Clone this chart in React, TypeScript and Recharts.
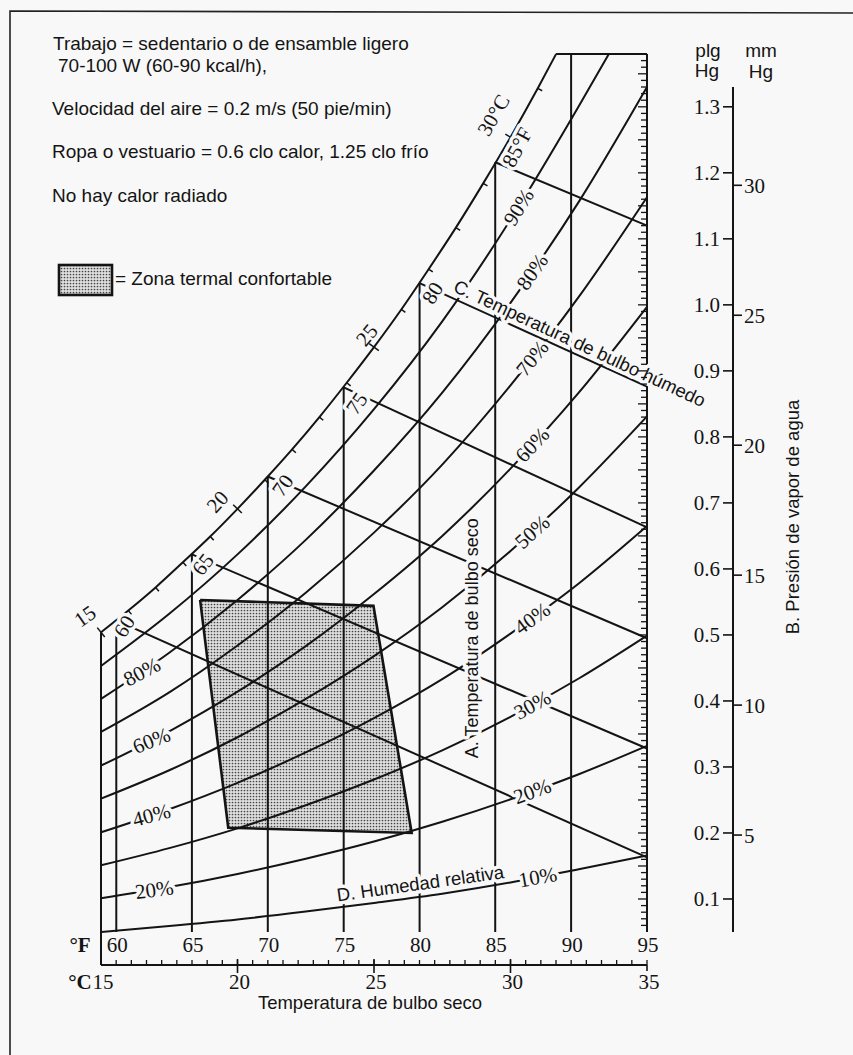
import React from 'react';
import { ComposedChart, LineChart, Line, Area, XAxis, YAxis, ReferenceDot } from 'recharts';

const INK = '#141414';
const PAPER = '#f8f8f8';
const SERIF = '"Liberation Serif", "Times New Roman", serif';
const SANS = '"Liberation Sans", Arial, sans-serif';

const W = 853;
const H = 1055;
// plot box of the psychrometric grid, in page pixels
const PLOT_LEFT = 101;
const PLOT_RIGHT = 646;
const PLOT_TOP = 54;
const PLOT_BOTTOM = 965;
const T_MIN = 15; // °C
const T_MAX = 35; // °C
const P_MAX = 1.38; // in Hg at the top border
const PX_PER_C = (PLOT_RIGHT - PLOT_LEFT) / (T_MAX - T_MIN);
const PX_PER_IN = (PLOT_BOTTOM - PLOT_TOP) / P_MAX;
const AXIS_BAND = 1; // thickness reserved by each thin axis

// ---- data -------------------------------------------------------------

// saturation (100 %) curve: dry-bulb °C -> vapour pressure in Hg
const SAT_TEMPS = [15, 16, 17, 18, 19, 20, 21, 22, 23, 24, 25, 26, 27, 28, 29, 30, 31, 31.67];
const SAT_PRESS = [0.504, 0.537, 0.572, 0.61, 0.649, 0.691, 0.735, 0.781, 0.83, 0.882, 0.936, 0.993, 1.054, 1.117, 1.184, 1.254, 1.328, 1.38];

// relative-humidity curves
const RH_TEMPS = [15, 17.5, 20, 22.5, 25, 27.5, 30, 32.5, 35];
const RH_90_TEMPS = [15, 17.5, 20, 22.5, 25, 27.5, 30, 32.5, 33.6];
const RH90 = [0.453, 0.532, 0.622, 0.725, 0.842, 0.975, 1.129, 1.301, 1.38];
const RH80 = [0.403, 0.473, 0.553, 0.644, 0.749, 0.867, 1.003, 1.156, 1.33];
const RH70 = [0.353, 0.413, 0.484, 0.564, 0.655, 0.758, 0.878, 1.012, 1.163];
const RH60 = [0.302, 0.354, 0.414, 0.483, 0.562, 0.65, 0.752, 0.867, 0.997];
const RH50 = [0.252, 0.295, 0.345, 0.403, 0.468, 0.542, 0.627, 0.723, 0.831];
const RH40 = [0.201, 0.236, 0.276, 0.322, 0.374, 0.433, 0.502, 0.578, 0.665];
const RH30 = [0.151, 0.177, 0.207, 0.242, 0.281, 0.325, 0.376, 0.434, 0.499];
const RH20 = [0.101, 0.118, 0.138, 0.161, 0.187, 0.217, 0.251, 0.289, 0.332];
const RH10 = [0.05, 0.059, 0.069, 0.081, 0.094, 0.108, 0.125, 0.145, 0.166];

// wet-bulb lines: start on the saturation curve, end on the 35 °C edge
const WB_LABELS = ['60', '65', '70', '75', '80', '85°F'];
const WB_START_T = [15.56, 18.33, 21.11, 23.89, 26.67, 29.44];
const WB_START_P = [0.522, 0.622, 0.74, 0.875, 1.033, 1.216];
const WB_END_P = [0.163, 0.328, 0.495, 0.663, 0.876, 1.12];

// dry-bulb lines every 5 °F
const DB_F = [60, 65, 70, 75, 80, 85, 90, 95];
const DB_T = [15.56, 18.33, 21.11, 23.89, 26.67, 29.44, 32.22, 35];
const DB_TOP = [0.522, 0.622, 0.74, 0.875, 1.033, 1.216, 1.38, 1.38];
const DB_BASE = 0.05;

// thermal comfort zone (corners in drawing order)
const ZONE_T = [18.63, 24.98, 26.38, 19.66];
const ZONE_P = [0.553, 0.544, 0.2, 0.208];
// lower / upper limit of the zone at each corner temperature
const ZONE_FILL_T = [18.63, 19.66, 24.98, 26.38];
const ZONE_FILL_LO = [0.553, 0.208, 0.201, 0.2];
const ZONE_FILL_HI = [0.553, 0.5515, 0.544, 0.2];

// axis ticks
const C_TICKS = [15, 20, 25, 30, 35];
const F_TICKS = [60, 61, 62, 63, 64, 65, 66, 67, 68, 69, 70, 71, 72, 73, 74, 75, 76, 77, 78, 79, 80, 81, 82, 83, 84, 85, 86, 87, 88, 89, 90, 91, 92, 93, 94, 95];
const IN_TICKS = [0.1, 0.2, 0.3, 0.4, 0.5, 0.6, 0.7, 0.8, 0.9, 1.0, 1.1, 1.2, 1.3];
const MM_TICKS = [5, 10, 15, 20, 25, 30];
const EDGE_TICKS = Array.from({ length: 132 }, (_, i) => Math.round((0.06 + i * 0.01) * 100) / 100);

// °F graduations expressed on the °C axis, merged with the °C ticks
const fToC = (f: number) => Math.round(((f - 32) / 1.8) * 10000) / 10000;
const AXIS_TICKS = Array.from(new Set([...C_TICKS, ...F_TICKS.map(fToC)])).sort((a, b) => a - b);

// ---- series built from the arrays ---------------------------------------

const pts = (ts: number[], ps: number[]) => ts.map((t, i) => ({ t, p: ps[i] }));

const RH_SERIES = [
  { rh: 90, data: pts(RH_90_TEMPS, RH90) },
  { rh: 80, data: pts(RH_TEMPS, RH80) },
  { rh: 70, data: pts(RH_TEMPS, RH70) },
  { rh: 60, data: pts(RH_TEMPS, RH60) },
  { rh: 50, data: pts(RH_TEMPS, RH50) },
  { rh: 40, data: pts(RH_TEMPS, RH40) },
  { rh: 30, data: pts(RH_TEMPS, RH30) },
  { rh: 20, data: pts(RH_TEMPS, RH20) },
  { rh: 10, data: pts(RH_TEMPS, RH10) },
];
const SAT_DATA = pts(SAT_TEMPS, SAT_PRESS);
const WB_SERIES = WB_START_T.map((t, i) => [
  { t, p: WB_START_P[i] },
  { t: T_MAX, p: WB_END_P[i] },
]);
const DB_SERIES = DB_T.map((t, i) => [
  { t, p: DB_BASE },
  { t, p: DB_TOP[i] },
]);
const LEFT_EDGE = [
  { t: T_MIN, p: 0 },
  { t: T_MIN, p: SAT_PRESS[0] },
];
const TOP_EDGE = [
  { t: SAT_TEMPS[SAT_TEMPS.length - 1], p: P_MAX },
  { t: T_MAX, p: P_MAX },
];
const ZONE_OUTLINE = [...pts(ZONE_T, ZONE_P), { t: ZONE_T[0], p: ZONE_P[0] }];
const ZONE_FILL = ZONE_FILL_T.map((t, i) => ({ t, p: [ZONE_FILL_LO[i], ZONE_FILL_HI[i]] }));

// ---- annotation placement (anchor on a curve + pixel nudge) --------------

const RH_LABELS = [
  { text: '90%', t: 30.3, p: 1.148, angle: -58 },
  { text: '80%', t: 30.8, p: 1.05, angle: -55 },
  { text: '70%', t: 30.8, p: 0.919, angle: -51 },
  { text: '60%', t: 30.8, p: 0.788, angle: -47 },
  { text: '50%', t: 30.8, p: 0.656, angle: -42 },
  { text: '40%', t: 30.8, p: 0.525, angle: -36 },
  { text: '30%', t: 30.8, p: 0.394, angle: -29 },
  { text: '20%', t: 30.8, p: 0.263, angle: -20 },
  { text: '10%', t: 31.0, p: 0.133, angle: -10 },
  { text: '80%', t: 16.5, p: 0.444, angle: -28 },
  { text: '60%', t: 16.85, p: 0.34, angle: -22 },
  { text: '40%', t: 16.85, p: 0.227, angle: -15 },
  { text: '20%', t: 16.95, p: 0.114, angle: -8 },
];
const WB_LABEL_NUDGE = [
  { dx: 8, dy: 6, angle: -58 },
  { dx: 11, dy: 10, angle: -52 },
  { dx: 15, dy: 9, angle: -55 },
  { dx: 13, dy: 16, angle: -55 },
  { dx: 13, dy: 10, angle: -58 },
  { dx: 22, dy: -15, angle: -62 },
];
const C_SAT_LABELS = [
  { text: '15', t: 15, p: 0.504, dx: -16, dy: -16, angle: -35 },
  { text: '20', t: 20, p: 0.691, dx: -20, dy: -7, angle: -48 },
  { text: '25', t: 25, p: 0.936, dx: -7, dy: -12, angle: -50 },
  { text: '30°C', t: 30, p: 1.254, dx: -17, dy: -22, angle: -60 },
];

// ---- drawing helpers --------------------------------------------------------

type RotTextProps = {
  cx?: number;
  cy?: number;
  text: string;
  dx?: number;
  dy?: number;
  angle?: number;
  size?: number;
  family?: string;
  halo?: boolean;
};

function RotText({ cx = 0, cy = 0, text, dx = 0, dy = 0, angle = 0, size = 21, family = SERIF, halo = true }: RotTextProps) {
  const x = cx + dx;
  const y = cy + dy;
  return (
    <text
      x={x}
      y={y}
      transform={`rotate(${angle} ${x} ${y})`}
      textAnchor="middle"
      dominantBaseline="central"
      fontFamily={family}
      fontSize={size}
      fill={INK}
      stroke={halo ? PAPER : 'none'}
      strokeWidth={halo ? 7 : 0}
      strokeLinejoin="round"
      paintOrder="stroke"
    >
      {text}
    </text>
  );
}

const satTick = (props: any) => {
  const { cx, cy, index } = props;
  const t = SAT_TEMPS[index];
  if (cx == null || cy == null || !Number.isInteger(t)) return <g key={`st${index}`} />;
  const i0 = Math.max(0, index - 1);
  const i1 = Math.min(SAT_TEMPS.length - 1, index + 1);
  const ax = (SAT_TEMPS[i1] - SAT_TEMPS[i0]) * PX_PER_C;
  const ay = (SAT_PRESS[i1] - SAT_PRESS[i0]) * PX_PER_IN;
  const len = Math.hypot(ax, ay);
  const nx = ay / len;
  const ny = ax / len;
  const major = t % 5 === 0;
  const a = major ? 6 : 0;
  const b = major ? 6 : 5;
  return (
    <line
      key={`st${index}`}
      x1={cx - nx * a}
      y1={cy - ny * a}
      x2={cx + nx * b}
      y2={cy + ny * b}
      stroke={INK}
      strokeWidth={1.5}
    />
  );
};

// one tick renderer for both scales: °F graduations above the line, °C below
const axisTick = (props: any) => {
  const { x, y, payload } = props;
  const v: number = payload.value;
  const f = Math.round(v * 1.8 + 32);
  const isF = f >= 60 && Math.abs(fToC(f) - v) < 1e-3;
  const isC = C_TICKS.includes(v);
  return (
    <g>
      {isF && <line x1={x} x2={x} y1={y} y2={y - 5} stroke={INK} strokeWidth={1.3} />}
      {isF && f % 5 === 0 && (
        <text x={x + 1} y={y - 13} textAnchor="middle" fontFamily={SERIF} fontSize={21} fill={INK}>
          {f}
        </text>
      )}
      {isC && v > T_MIN && v < T_MAX && <line x1={x} x2={x} y1={y - 6} y2={y + 8} stroke={INK} strokeWidth={1.6} />}
      {isC && v === T_MAX && <line x1={x} x2={x} y1={y} y2={y + 6} stroke={INK} strokeWidth={1.6} />}
      {isC && (
        <text x={x + 2} y={y + 24} textAnchor="middle" fontFamily={SERIF} fontSize={21} fill={INK}>
          {v}
        </text>
      )}
      {v === T_MIN && (
        <>
          <text x={x - 21} y={y + 24} textAnchor="middle" fontFamily={SERIF} fontSize={21} fontWeight={700} fill={INK}>
            °C
          </text>
          <text x={x - 21} y={y - 13} textAnchor="middle" fontFamily={SERIF} fontSize={21} fontWeight={700} fill={INK}>
            °F
          </text>
        </>
      )}
    </g>
  );
};

const edgeTick = (props: any) => {
  const { x, y, payload } = props;
  const major = Math.round(payload.value * 100) % 5 === 0;
  return <line x1={x} x2={x - (major ? 9 : 6)} y1={y} y2={y} stroke={INK} strokeWidth={1.3} />;
};

const lineProps = {
  xAxisId: 'c',
  yAxisId: 'vp',
  dataKey: 'p',
  stroke: INK,
  strokeWidth: 2,
  dot: false,
  activeDot: false,
  isAnimationActive: false,
};

function Psychrometric() {
  return (
    <ComposedChart
      width={W}
      height={H}
      margin={{
        top: PLOT_TOP,
        right: W - PLOT_RIGHT - AXIS_BAND,
        bottom: H - PLOT_BOTTOM - AXIS_BAND,
        left: PLOT_LEFT,
      }}
    >
      <XAxis
        xAxisId="c"
        type="number"
        dataKey="t"
        domain={[T_MIN, T_MAX]}
        ticks={AXIS_TICKS}
        interval={0}
        height={AXIS_BAND}
        axisLine={{ stroke: INK, strokeWidth: 2 }}
        tickLine={false}
        tickSize={0}
        tickMargin={0}
        tick={axisTick}
      />
      <YAxis
        yAxisId="vp"
        type="number"
        dataKey="p"
        domain={[0, P_MAX]}
        orientation="right"
        width={AXIS_BAND}
        mirror
        ticks={EDGE_TICKS}
        interval={0}
        axisLine={false}
        tickLine={false}
        tickSize={0}
        tickMargin={0}
        tick={edgeTick}
      />

      <Area
        xAxisId="c"
        yAxisId="vp"
        data={ZONE_FILL}
        dataKey="p"
        type="linear"
        stroke="none"
        fill="url(#zoneDots)"
        fillOpacity={1}
        dot={false}
        activeDot={false}
        isAnimationActive={false}
      />

      {DB_SERIES.map((d, i) => (
        <Line key={`db${DB_F[i]}`} {...lineProps} data={d} type="linear" />
      ))}
      <Line {...lineProps} data={LEFT_EDGE} type="linear" />
      <Line {...lineProps} data={TOP_EDGE} type="linear" />
      {WB_SERIES.map((d, i) => (
        <Line key={`wb${i}`} {...lineProps} data={d} type="linear" />
      ))}
      {RH_SERIES.map((s) => (
        <Line key={`rh${s.rh}`} {...lineProps} data={s.data} type="monotone" />
      ))}
      <Line {...lineProps} data={SAT_DATA} type="monotone" dot={satTick} />
      <Line {...lineProps} data={ZONE_OUTLINE} type="linear" strokeWidth={2.6} />

      {RH_LABELS.map((l, i) => (
        <ReferenceDot
          key={`rhl${i}`}
          xAxisId="c"
          yAxisId="vp"
          x={l.t}
          y={l.p}
          r={0}
          ifOverflow="visible"
          shape={(p: any) => <RotText cx={p.cx} cy={p.cy} text={l.text} angle={l.angle} />}
        />
      ))}
      {WB_LABELS.map((text, i) => (
        <ReferenceDot
          key={`wbl${i}`}
          xAxisId="c"
          yAxisId="vp"
          x={WB_START_T[i]}
          y={WB_START_P[i]}
          r={0}
          ifOverflow="visible"
          shape={(p: any) => <RotText cx={p.cx} cy={p.cy} text={text} {...WB_LABEL_NUDGE[i]} />}
        />
      ))}
      {C_SAT_LABELS.map((l, i) => (
        <ReferenceDot
          key={`csl${i}`}
          xAxisId="c"
          yAxisId="vp"
          x={l.t}
          y={l.p}
          r={0}
          ifOverflow="visible"
          shape={(p: any) => <RotText cx={p.cx} cy={p.cy} text={l.text} dx={l.dx} dy={l.dy} angle={l.angle} halo={false} />}
        />
      ))}
      <ReferenceDot
        xAxisId="c"
        yAxisId="vp"
        x={32.39}
        y={0.925}
        r={0}
        ifOverflow="visible"
        shape={(p: any) => (
          <RotText cx={p.cx} cy={p.cy} dx={4} dy={-11} angle={25} size={18.5} family={SANS} text="C. Temperatura de bulbo húmedo" />
        )}
      />
      <ReferenceDot
        xAxisId="c"
        yAxisId="vp"
        x={26.7}
        y={0.104}
        r={0}
        ifOverflow="visible"
        shape={(p: any) => (
          <RotText cx={p.cx} cy={p.cy} dy={-13} angle={-8} size={18.5} family={SANS} text="D. Humedad relativa" />
        )}
      />
      <ReferenceDot
        xAxisId="c"
        yAxisId="vp"
        x={28.6}
        y={0.495}
        r={0}
        ifOverflow="visible"
        shape={(p: any) => (
          <RotText cx={p.cx} cy={p.cy} angle={-90} size={18} family={SANS} text="A. Temperatura de bulbo seco" />
        )}
      />
    </ComposedChart>
  );
}

// separate vapour-pressure scale (in Hg on the left, mm Hg on the right), same px per in Hg
const SCALE_LO = 0.05;
const SCALE_HI = 1.33;
const MM_PER_IN = 25.4;
const SCALE_AXIS_X = 733;
const SCALE_SIDE = 60;

function PressureScale() {
  const top = PLOT_BOTTOM - SCALE_HI * PX_PER_IN;
  const bottom = H - (PLOT_BOTTOM - SCALE_LO * PX_PER_IN);
  return (
    <LineChart width={SCALE_SIDE * 2 + 1} height={H} margin={{ top, bottom, left: 0, right: 0 }}>
      <XAxis type="number" domain={[0, 1]} hide />
      <YAxis
        yAxisId="in"
        type="number"
        orientation="left"
        width={SCALE_SIDE}
        domain={[SCALE_LO, SCALE_HI]}
        allowDataOverflow
        ticks={IN_TICKS}
        interval={0}
        tickSize={10}
        tickMargin={3}
        tickFormatter={(v: number) => v.toFixed(1)}
        axisLine={{ stroke: INK, strokeWidth: 2 }}
        tickLine={{ stroke: INK, strokeWidth: 1.6 }}
        tick={{ fontFamily: SERIF, fontSize: 21, fill: INK }}
      />
      <YAxis
        yAxisId="mm"
        type="number"
        orientation="right"
        width={SCALE_SIDE}
        domain={[SCALE_LO * MM_PER_IN, SCALE_HI * MM_PER_IN]}
        allowDataOverflow
        ticks={MM_TICKS}
        interval={0}
        tickSize={8}
        tickMargin={2}
        axisLine={false}
        tickLine={{ stroke: INK, strokeWidth: 1.6 }}
        tick={{ fontFamily: SERIF, fontSize: 21, fill: INK, textAnchor: 'start' }}
      />
    </LineChart>
  );
}

function Notes() {
  const t = { fontFamily: SANS, fontSize: 19, fill: INK } as const;
  return (
    <svg width={W} height={H} style={{ position: 'absolute', left: 0, top: 0 }}>
      <defs>
        <pattern id="zoneDots" width="3" height="3" patternUnits="userSpaceOnUse">
          <rect width="3" height="3" fill="#dedede" />
          <circle cx="1.5" cy="1.5" r="0.85" fill="#444" />
        </pattern>
      </defs>
      <path d={`M 10 ${H} L 10 11 L ${W} 13`} fill="none" stroke="#222" strokeWidth={1.6} />
      <text x={53} y={50} {...t}>Trabajo = sedentario o de ensamble ligero</text>
      <text x={58} y={72} {...t}>70-100 W (60-90 kcal/h),</text>
      <text x={52} y={115} {...t}>Velocidad del aire = 0.2 m/s (50 pie/min)</text>
      <text x={52} y={158} {...t}>Ropa o vestuario = 0.6 clo calor, 1.25 clo frío</text>
      <text x={52} y={202} {...t}>No hay calor radiado</text>
      <rect x={59} y={265} width={53} height={30} fill="url(#zoneDots)" stroke={INK} strokeWidth={2.6} />
      <text x={115} y={285} {...t}>= Zona termal confortable</text>

      <text x={708} y={57} textAnchor="middle" {...t}>plg</text>
      <text x={707} y={77} textAnchor="middle" {...t}>Hg</text>
      <text x={761} y={57} textAnchor="middle" {...t}>mm</text>
      <text x={761} y={78} textAnchor="middle" {...t}>Hg</text>
      <text x={792} y={517} textAnchor="middle" dominantBaseline="central" transform="rotate(-90 792 517)" {...t} fontSize={18.5}>
        B. Presión de vapor de agua
      </text>
      <text x={370} y={1009} textAnchor="middle" {...t} fontSize={18.5}>Temperatura de bulbo seco</text>
    </svg>
  );
}

export default function App() {
  return (
    <div style={{ position: 'absolute', left: 0, top: 0, width: W, height: H, background: PAPER, overflow: 'hidden' }}>
      <Notes />
      <div style={{ position: 'absolute', left: 0, top: 0 }}>
        <Psychrometric />
      </div>
      <div style={{ position: 'absolute', left: SCALE_AXIS_X - SCALE_SIDE, top: 0 }}>
        <PressureScale />
      </div>
    </div>
  );
}
